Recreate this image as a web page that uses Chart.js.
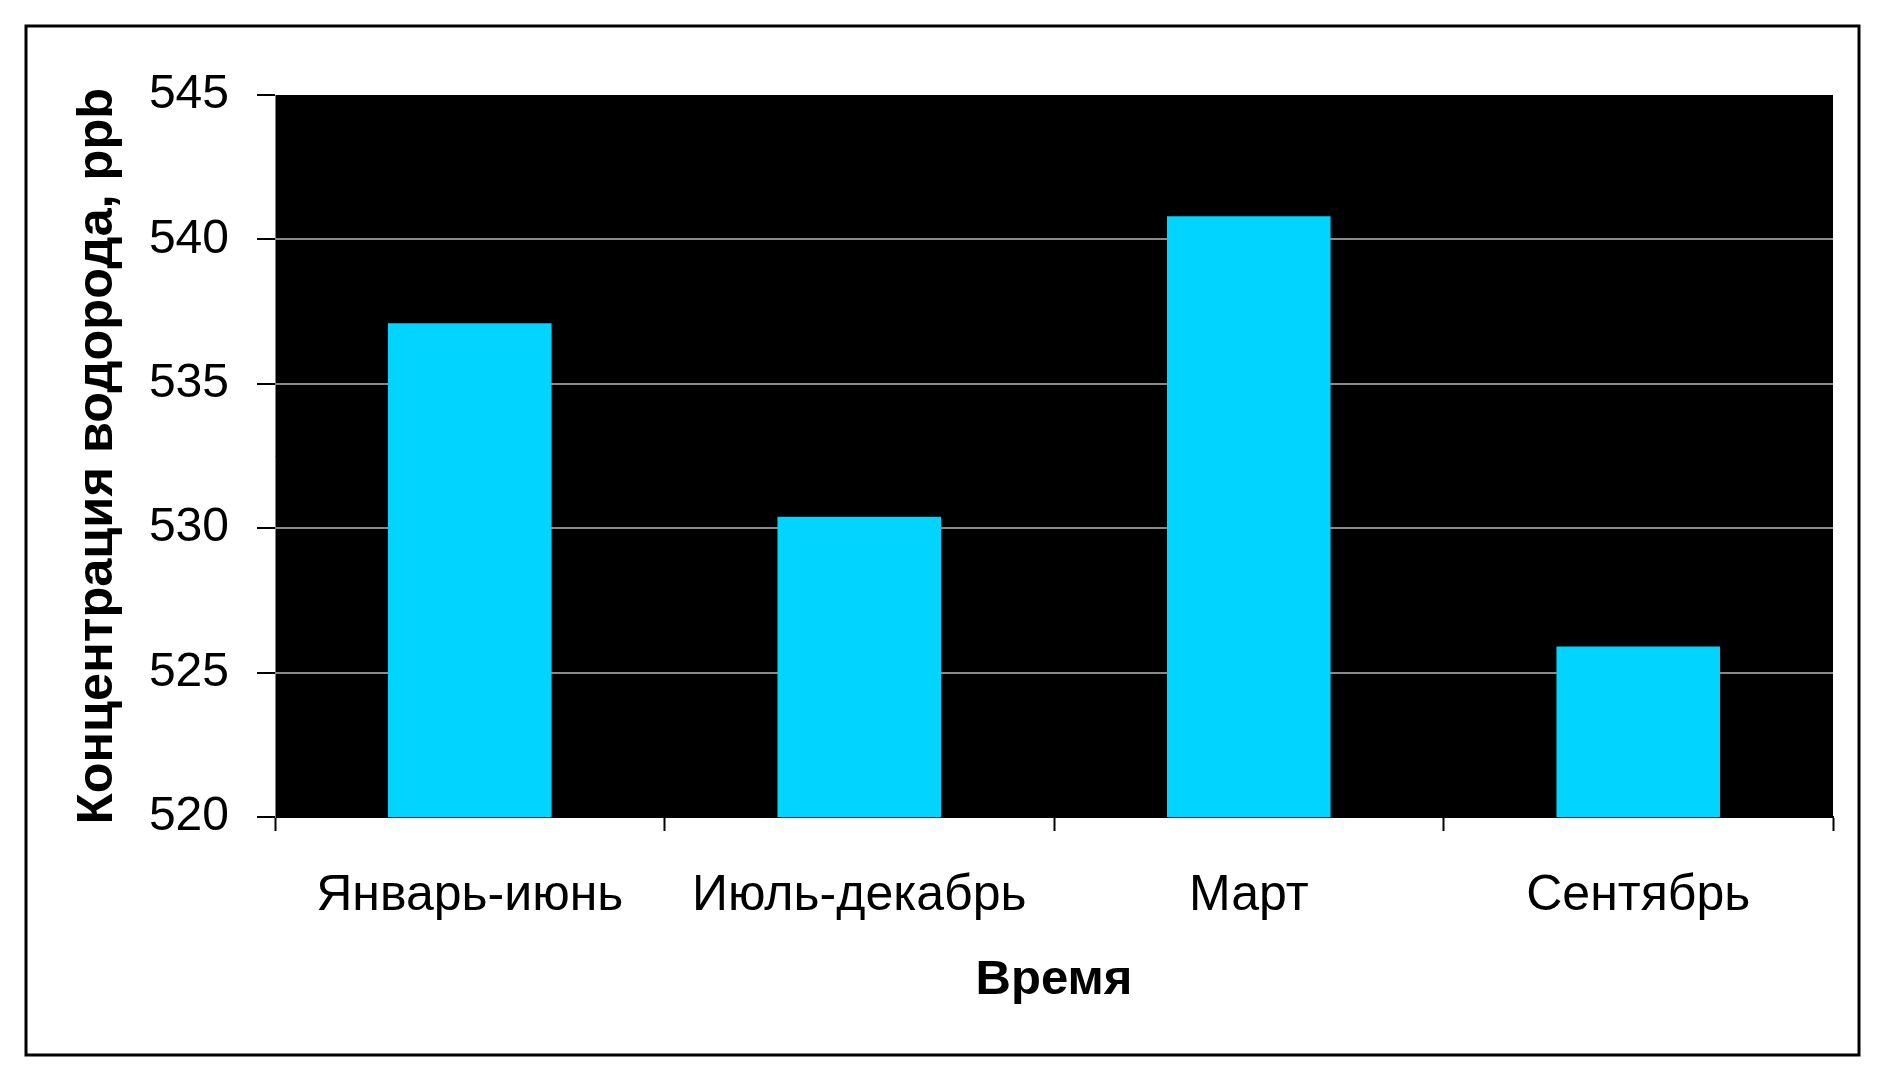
<!DOCTYPE html>
<html lang="ru">
<head>
<meta charset="utf-8">
<title>Концентрация водорода</title>
<script src="https://cdn.jsdelivr.net/npm/chart.js@4.4.1/dist/chart.umd.min.js"></script>
<style>
  html, body { margin: 0; padding: 0; background: #ffffff; }
  #wrap { width: 1883px; height: 1080px; }
</style>
</head>
<body>
<div id="wrap"><canvas id="chart" width="1883" height="1080"></canvas></div>
<script>
// chart data
const categories = ['Январь-июнь', 'Июль-декабрь', 'Март', 'Сентябрь'];
const hydrogenValues = [537.1, 530.4, 540.8, 525.9];
const yTicks = [520, 525, 530, 535, 540, 545];

const fontFamily = '"Liberation Sans", Arial, sans-serif';

// white page, black plot area and the outer frame
const framePlugin = {
  id: 'frame',
  beforeDraw(chart) {
    const ctx = chart.ctx;
    const area = chart.chartArea;
    ctx.save();
    ctx.fillStyle = '#ffffff';
    ctx.fillRect(0, 0, chart.width, chart.height);
    ctx.fillStyle = '#000000';
    ctx.fillRect(area.left, area.top, area.right - area.left, area.bottom - area.top);
    ctx.strokeStyle = '#000000';
    ctx.lineWidth = 3;
    ctx.strokeRect(26, 26, 1833, 1029);
    ctx.restore();
  }
};

const ctx = document.getElementById('chart').getContext('2d');
new Chart(ctx, {
  type: 'bar',
  data: {
    labels: categories,
    datasets: [{
      label: 'Концентрация водорода, ppb',
      data: hydrogenValues,
      backgroundColor: '#00D4FF',
      borderWidth: 0,
      categoryPercentage: 1.0,
      barPercentage: 0.42
    }]
  },
  options: {
    responsive: false,
    animation: false,
    layout: {
      padding: { top: 95, right: 50, left: 0, bottom: 0 }
    },
    plugins: {
      legend: { display: false },
      tooltip: { enabled: false }
    },
    scales: {
      x: {
        afterFit: s => { s.height = 263; },
        grid: {
          display: true,
          drawOnChartArea: false,
          offset: true,
          tickLength: 14,
          tickColor: '#000000',
          tickWidth: 2
        },
        border: { display: true, color: '#000000', width: 2 },
        ticks: {
          color: '#000000',
          padding: 35,
          maxRotation: 0,
          autoSkip: false,
          font: { family: fontFamily, size: 50 }
        },
        title: {
          display: true,
          text: 'Время',
          color: '#000000',
          padding: { top: 0, bottom: 70 },
          font: { family: fontFamily, size: 49, weight: 'bold' }
        }
      },
      y: {
        min: yTicks[0],
        max: yTicks[yTicks.length - 1],
        afterFit: s => { s.width = 275; },
        afterBuildTicks: s => { s.ticks = yTicks.map(v => ({ value: v })); },
        grid: {
          color: c => (c.tick && (c.tick.value === yTicks[0] || c.tick.value === yTicks[yTicks.length - 1])) ? 'rgba(0,0,0,0)' : '#8a8a8a',
          lineWidth: 2,
          tickLength: 18,
          tickColor: '#000000',
          tickWidth: 2
        },
        border: { display: true, color: '#808080', width: 1 },
        ticks: {
          color: '#000000',
          padding: 28,
          font: { family: fontFamily, size: 48 }
        },
        title: {
          display: true,
          text: 'Концентрация водорода, ppb',
          color: '#000000',
          padding: { top: 68, bottom: 0 },
          font: { family: fontFamily, size: 50.5, weight: 'bold' }
        }
      }
    }
  },
  plugins: [framePlugin]
});
</script>
</body>
</html>
